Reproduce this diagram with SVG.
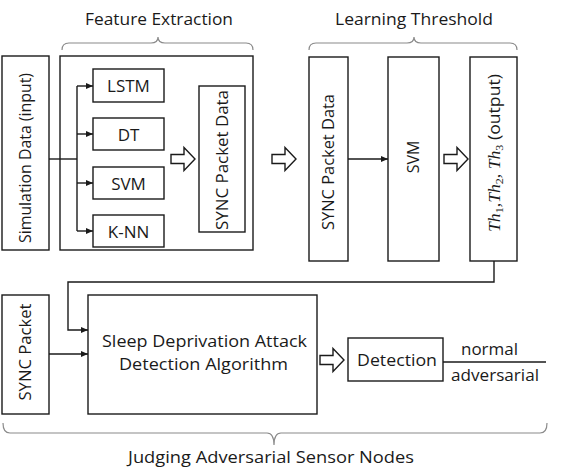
<svg xmlns="http://www.w3.org/2000/svg" width="567" height="468" viewBox="0 0 567 468">
<style>
  text { font-family: "Open Sans", "Noto Sans", "Liberation Sans", sans-serif; font-size: 17px; fill: #1a1a1a; }
  .r { font-size: 16px; }
  .alg { font-size: 16.5px; }
  .box { fill: #fff; stroke: #1a1a1a; stroke-width: 1.4; }
  .ln { fill: none; stroke: #1a1a1a; stroke-width: 1.4; }
  .brace { fill: none; stroke: #8a8a8a; stroke-width: 1.2; }
  .hollow { fill: #fff; stroke: #1a1a1a; stroke-width: 1.4; stroke-linejoin: miter; }
  .th { font-family: "Liberation Serif", "DejaVu Serif", serif; font-style: italic; font-size: 16px; }
  .sub { font-family: "Liberation Serif", "DejaVu Serif", serif; font-size: 11px; }
</style>
<defs>
  <marker id="ah" markerWidth="8" markerHeight="8" refX="7" refY="4" orient="auto" markerUnits="userSpaceOnUse">
    <path d="M0,1 L7,4 L0,7 Z" fill="#1a1a1a"/>
  </marker>
  <path id="harrow" d="M0,-4.5 L13,-4.5 L13,-11.5 L24,0 L13,11.5 L13,4.5 L0,4.5 Z"/>
</defs>

<!-- titles and braces -->
<g id="label-feature">
  <text x="159" y="25" text-anchor="middle" textLength="148" lengthAdjust="spacingAndGlyphs">Feature Extraction</text>
  <path class="brace" d="M62,50 Q62,43 69,43 L151,43 Q158,43 158,37 Q158,43 165,43 L246,43 Q253,43 253,50"/>
</g>
<g id="label-learning">
  <text x="414" y="25" text-anchor="middle" textLength="158" lengthAdjust="spacingAndGlyphs">Learning Threshold</text>
  <path class="brace" d="M309,50 Q309,43 316,43 L407,43 Q414,43 414,37 Q414,43 421,43 L510,43 Q517,43 517,50"/>
</g>
<g id="label-judging">
  <path class="brace" d="M3,423 Q3,433 10,433 L267,433 Q274,433 274,445 Q274,433 281,433 L540,433 Q547,433 547,423"/>
  <text x="271" y="463" text-anchor="middle" textLength="286" lengthAdjust="spacingAndGlyphs">Judging Adversarial Sensor Nodes</text>
</g>

<!-- nodes -->
<g id="sim-data">
  <rect class="box" x="2" y="56" width="47" height="194"/>
  <text class="r" transform="translate(25.5,158) rotate(-90)" text-anchor="middle" dy="0.35em" textLength="170" lengthAdjust="spacingAndGlyphs">Simulation Data (input)</text>
</g>
<g id="feature-box">
  <rect class="box" x="60" y="56" width="193" height="194"/>
</g>
<g id="lstm">
  <rect class="box" x="93" y="69" width="71" height="33"/>
  <text x="128.5" y="92" text-anchor="middle">LSTM</text>
</g>
<g id="dt">
  <rect class="box" x="93" y="118" width="71" height="32"/>
  <text x="128.5" y="140.5" text-anchor="middle">DT</text>
</g>
<g id="svm1">
  <rect class="box" x="93" y="167" width="71" height="32"/>
  <text x="128.5" y="189.5" text-anchor="middle">SVM</text>
</g>
<g id="knn">
  <rect class="box" x="93" y="215" width="71" height="32"/>
  <text x="128.5" y="237.5" text-anchor="middle">K-NN</text>
</g>
<g id="sync-data-1">
  <rect class="box" x="199" y="86" width="46" height="146"/>
  <text class="r" transform="translate(222,160) rotate(-90)" text-anchor="middle" dy="0.35em" textLength="140" lengthAdjust="spacingAndGlyphs">SYNC Packet Data</text>
</g>
<g id="sync-data-2">
  <rect class="box" x="309" y="57" width="39" height="204"/>
  <text class="r" transform="translate(328.5,162) rotate(-90)" text-anchor="middle" dy="0.35em" textLength="136" lengthAdjust="spacingAndGlyphs">SYNC Packet Data</text>
</g>
<g id="svm2">
  <rect class="box" x="388" y="57" width="51" height="204"/>
  <text class="r" transform="translate(413.5,157) rotate(-90)" text-anchor="middle" dy="0.35em">SVM</text>
</g>
<g id="thresholds">
  <rect class="box" x="470" y="57" width="47" height="204"/>
  <text class="r" transform="translate(494,153) rotate(-90)" text-anchor="middle" dy="0.35em" textLength="158" lengthAdjust="spacingAndGlyphs"><tspan class="th">Th</tspan><tspan class="sub" dy="3">1</tspan><tspan class="th" dy="-3">,Th</tspan><tspan class="sub" dy="3">2</tspan><tspan class="th" dy="-3">, Th</tspan><tspan class="sub" dy="3">3</tspan><tspan dy="-3"> (output)</tspan></text>
</g>
<g id="sync-packet">
  <rect class="box" x="2" y="295" width="47" height="119"/>
  <text class="r" transform="translate(25.5,352) rotate(-90)" text-anchor="middle" dy="0.35em" textLength="97" lengthAdjust="spacingAndGlyphs">SYNC Packet</text>
</g>
<g id="algorithm">
  <rect class="box" x="88" y="295" width="229" height="119"/>
  <text class="alg" x="204.5" y="346.5" text-anchor="middle" textLength="205" lengthAdjust="spacingAndGlyphs">Sleep Deprivation Attack</text>
  <text class="alg" x="203.5" y="369.5" text-anchor="middle" textLength="169" lengthAdjust="spacingAndGlyphs">Detection Algorithm</text>
</g>
<g id="detection">
  <rect class="box" x="348" y="338" width="95" height="43"/>
  <text x="397" y="366" text-anchor="middle" textLength="80" lengthAdjust="spacingAndGlyphs">Detection</text>
</g>
<g id="outcomes">
  <text x="489.5" y="355" text-anchor="middle" textLength="57" lengthAdjust="spacingAndGlyphs">normal</text>
  <text x="495" y="381" text-anchor="middle" textLength="88" lengthAdjust="spacingAndGlyphs">adversarial</text>
</g>

<!-- connectors -->
<g id="connectors">
  <path class="ln" d="M49,159 L77,159"/>
  <path class="ln" d="M77,86 L77,231"/>
  <path class="ln" d="M77,86 L93,86" marker-end="url(#ah)"/>
  <path class="ln" d="M77,134 L93,134" marker-end="url(#ah)"/>
  <path class="ln" d="M77,183 L93,183" marker-end="url(#ah)"/>
  <path class="ln" d="M77,231 L93,231" marker-end="url(#ah)"/>
  <path class="ln" d="M348,159 L388,159" marker-end="url(#ah)"/>
  <path class="ln" d="M494,261 L494,282 L68,282 L68,330 L88,330" marker-end="url(#ah)"/>
  <path class="ln" d="M49,354 L88,354" marker-end="url(#ah)"/>
  <path class="ln" d="M443,362 L546,362"/>
  <use href="#harrow" class="hollow" transform="translate(171,159)"/>
  <use href="#harrow" class="hollow" transform="translate(272,159)"/>
  <use href="#harrow" class="hollow" transform="translate(444,159)"/>
  <use href="#harrow" class="hollow" transform="translate(320,360)"/>
</g>
</svg>
